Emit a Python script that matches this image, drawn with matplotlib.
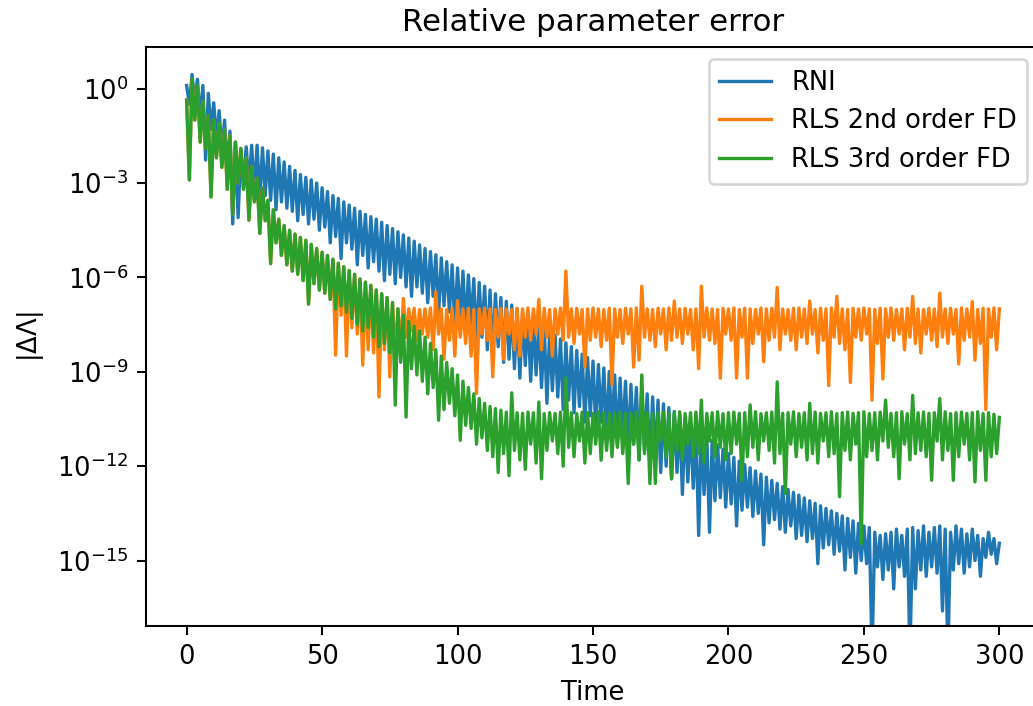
import numpy as np
import matplotlib
matplotlib.use("Agg")
import matplotlib.pyplot as plt
from matplotlib.ticker import NullLocator

# ---------------- data (log10 of |ΔΛ|) ----------------
# sampling grid: upper (comb-tooth) values at even times, lower values at odd times
time_upper = list(range(0, 301, 2))
time_lower = list(range(1, 300, 2))

rni_upper = [
    0.1, 0.45, 0.3, 0.1, -0.15, -0.45, -0.7, -1.0, -1.35, -1.7,
    -1.95, -1.85, -1.8, -1.8, -1.88, -1.98, -2.08, -2.2, -2.33, -2.47,
    -2.6, -2.73, -2.82, -2.9, -3.0, -3.15, -3.27, -3.4, -3.49, -3.6,
    -3.7, -3.8, -3.9, -4.0, -4.07, -4.15, -4.25, -4.35, -4.45, -4.55,
    -4.65, -4.75, -4.85, -4.97, -5.08, -5.18, -5.28, -5.38, -5.5, -5.6,
    -5.7, -5.8, -5.92, -6.04, -6.16, -6.28, -6.4, -6.52, -6.64, -6.76,
    -6.88, -7.0, -7.12, -7.24, -7.36, -7.48, -7.6, -7.72, -7.84, -7.96,
    -8.08, -8.2, -8.32, -8.44, -8.55, -8.66, -8.77, -8.88, -8.99, -9.1,
    -9.2, -9.3, -9.4, -9.5, -9.6, -9.7, -9.8, -9.9, -10.02, -10.14,
    -10.26, -10.38, -10.5, -10.63, -10.76, -10.9, -11.04, -11.18, -11.32, -11.46,
    -11.6, -11.72, -11.84, -11.95, -12.05, -12.15, -12.25, -12.35, -12.45, -12.55,
    -12.65, -12.74, -12.83, -12.92, -13.01, -13.1, -13.18, -13.26, -13.34, -13.42,
    -13.5, -13.58, -13.66, -13.74, -13.82, -13.9, -13.95, -14.1, -14.2, -14.15,
    -14.1, -14.0, -14.2, -14.0, -13.95, -14.05, -13.9, -14.1, -13.95, -13.9,
    -14.0, -14.1, -13.9, -14.0, -14.15, -14.0, -14.2, -14.3, -14.1, -14.3, -14.45,
]
rni_lower = [
    -0.5, -0.4, -1.0, -2.27, -1.3, -1.6, -2.0, -2.6, -4.3, -4.1,
    -3.0, -3.1, -3.3, -3.5, -3.4, -3.55, -3.85, -3.6, -3.8, -3.9,
    -4.2, -4.0, -4.3, -4.15, -4.5, -4.4, -4.9, -4.7, -5.4, -4.9,
    -5.1, -5.6, -5.3, -5.7, -5.5, -5.8, -6.1, -5.9, -6.2, -6.0,
    -6.3, -6.6, -6.3, -6.5, -6.8, -6.6, -7.2, -6.9, -7.1, -7.6,
    -7.4, -7.7, -7.5, -8.1, -7.9, -8.3, -8.5, -8.2, -8.7, -8.6,
    -8.9, -9.2, -8.8, -9.3, -9.1, -9.5, -10.0, -9.6, -9.8, -10.2,
    -9.9, -10.3, -10.1, -10.6, -10.4, -10.8, -10.6, -11.1, -10.9, -11.3,
    -11.1, -11.5, -11.3, -11.8, -11.5, -12.0, -11.8, -12.2, -12.0, -12.4,
    -12.2, -12.9, -12.5, -12.7, -14.2, -12.9, -14.1, -13.1, -13.0, -13.3,
    -13.2, -13.9, -13.4, -13.3, -13.6, -13.5, -14.5, -13.8, -13.7, -14.0,
    -14.1, -13.9, -14.3, -14.2, -14.4, -14.3, -15.1, -14.6, -14.5, -14.8,
    -14.7, -15.3, -14.9, -15.4, -15.0, -15.1, -18.0, -15.2, -15.6, -15.3,
    -15.9, -15.2, -15.5, -18.0, -15.9, -15.3, -15.5, -15.2, -15.4, -16.6,
    -18.0, -15.3, -15.1, -15.4, -15.2, -15.0, -15.5, -14.9, -14.8, -15.1,
]

rls2_upper = [
    -0.36, 0.3, 0.1, -0.4, -0.85, -1.0, -1.1, -1.3, -1.5, -1.7,
    -1.9, -2.2, -2.48, -2.85, -3.15, -3.55, -3.85, -4.15, -4.35, -4.5,
    -4.62, -4.73, -4.82, -4.95, -5.08, -5.2, -5.3, -5.42, -5.55, -5.66,
    -5.78, -5.9, -6.05, -6.15, -6.25, -6.4, -6.52, -6.64, -6.8, -7.0,
    -6.67, -7.0, -6.98, -7.02, -7.0, -6.97, -6.46, -7.0, -7.02, -6.98,
    -6.74, -7.0, -6.98, -7.02, -7.0, -6.97, -7.0, -7.02, -6.98, -7.0,
    -7.02, -6.98, -7.0, -6.97, -7.0, -6.7, -6.98, -7.02, -7.0, -6.97,
    -5.8, -7.0, -6.98, -7.02, -7.0, -6.97, -7.0, -7.02, -6.98, -7.0,
    -7.02, -6.98, -7.0, -6.97, -6.28, -7.0, -7.02, -6.98, -7.0, -6.97,
    -6.75, -7.0, -6.98, -7.02, -7.0, -6.28, -6.97, -7.0, -7.02, -6.98,
    -7.0, -6.97, -7.02, -6.98, -7.0, -7.02, -6.97, -7.0, -6.98, -6.32,
    -7.0, -7.02, -6.98, -6.97, -7.0, -6.75, -7.02, -6.98, -7.0, -6.97,
    -6.6, -7.0, -7.02, -6.98, -7.0, -6.97, -7.0, -7.02, -6.98, -7.0,
    -6.97, -7.02, -7.0, -6.98, -6.6, -7.0, -7.02, -6.98, -7.0, -6.5,
    -7.0, -6.98, -7.02, -6.97, -7.0, -6.77, -7.02, -6.98, -7.0, -6.97, -7.0,
]
rls2_lower = [
    -2.9, -1.0, -1.7, -1.9, -3.44, -2.2, -2.5, -3.2, -3.98, -3.0,
    -3.2, -4.18, -3.6, -4.6, -4.2, -5.56, -4.9, -5.3, -5.6, -5.8,
    -5.9, -6.1, -6.85, -6.2, -6.4, -6.5, -6.7, -8.47, -7.2, -8.5,
    -7.6, -7.8, -8.79, -8.3, -8.4, -9.8, -8.3, -9.16, -8.4, -8.3,
    -7.9, -7.7, -8.0, -7.8, -7.9, -8.3, -7.8, -8.6, -8.0, -8.5,
    -7.9, -8.1, -8.5, -9.69, -7.8, -8.0, -9.16, -7.9, -8.6, -7.8,
    -8.3, -8.5, -7.9, -8.0, -7.8, -8.3, -7.9, -8.5, -7.8, -8.0,
    -7.9, -8.1, -7.8, -8.85, -8.0, -7.9, -8.2, -8.0, -9.4, -7.9,
    -8.1, -7.8, -8.85, -8.63, -7.9, -8.0, -8.2, -7.8, -8.3, -8.0,
    -7.9, -8.1, -7.8, -8.3, -8.9, -7.9, -8.0, -8.1, -9.2, -7.8,
    -8.0, -9.2, -7.9, -9.2, -8.1, -7.8, -8.68, -8.0, -7.9, -8.3,
    -7.8, -8.0, -8.3, -7.9, -8.1, -7.8, -8.4, -8.0, -9.44, -7.9,
    -8.1, -8.3, -9.34, -7.9, -8.0, -7.8, -9.9, -8.1, -9.23, -7.9,
    -8.0, -7.8, -8.3, -7.9, -8.1, -8.4, -7.8, -8.0, -8.2, -7.9,
    -8.1, -7.8, -8.75, -8.0, -7.9, -8.63, -8.1, -10.2, -7.9, -8.3,
]

rls3_upper = [
    -0.36, 0.3, 0.1, -0.4, -0.85, -1.0, -1.1, -1.3, -1.5, -1.7,
    -1.9, -2.2, -2.48, -2.85, -3.15, -3.55, -3.85, -4.15, -4.35, -4.5,
    -4.62, -4.73, -4.82, -4.95, -5.08, -5.2, -5.3, -5.42, -5.55, -5.66,
    -5.78, -5.9, -6.05, -6.15, -6.25, -6.4, -6.52, -6.64, -6.8, -7.0,
    -7.2, -7.4, -7.55, -7.7, -7.9, -8.1, -8.3, -8.5, -8.7, -8.9,
    -9.1, -9.3, -9.5, -9.7, -9.85, -10.0, -10.1, -10.17, -10.22, -10.28,
    -9.67, -10.3, -10.32, -10.28, -10.3, -9.96, -10.33, -10.3, -10.32, -10.28,
    -9.2, -10.3, -10.33, -10.28, -10.3, -10.32, -10.27, -10.3, -10.33, -10.3,
    -10.28, -10.32, -10.3, -10.27, -9.1, -10.3, -10.33, -10.3, -10.28, -10.32,
    -10.3, -10.27, -10.33, -10.3, -10.28, -9.9, -10.32, -10.3, -10.27, -10.33,
    -10.3, -10.28, -10.32, -10.3, -10.05, -10.27, -10.33, -10.3, -10.28, -9.32,
    -10.32, -10.3, -10.27, -10.33, -10.3, -10.0, -10.28, -10.32, -10.3, -10.27,
    -10.33, -10.3, -10.28, -10.32, -10.3, -10.27, -10.33, -10.3, -10.28, -9.9,
    -10.32, -10.3, -10.27, -10.33, -9.75, -10.3, -10.28, -10.32, -10.3, -9.85,
    -10.27, -10.33, -10.3, -10.28, -10.32, -10.3, -10.27, -10.33, -10.3, -10.35, -10.45,
]
rls3_lower = [
    -2.9, -1.0, -1.7, -1.9, -3.44, -2.2, -2.5, -3.2, -3.98, -3.0,
    -3.2, -4.18, -3.6, -4.6, -4.2, -5.56, -4.9, -5.3, -5.6, -5.8,
    -5.9, -6.1, -6.85, -6.2, -6.4, -6.5, -6.7, -7.0, -6.9, -7.1,
    -7.3, -7.5, -7.7, -7.6, -7.9, -8.2, -8.1, -8.4, -10.06, -8.7,
    -10.44, -8.9, -9.1, -9.3, -9.7, -9.5, -10.54, -10.2, -10.0, -10.4,
    -11.18, -10.7, -10.8, -11.3, -11.1, -11.5, -11.7, -12.2, -11.6, -12.3,
    -11.5, -11.8, -12.1, -11.3, -11.9, -12.4, -11.5, -11.2, -11.6, -12.0,
    -11.4, -11.7, -11.2, -11.9, -11.6, -11.3, -11.81, -11.5, -11.7, -11.4,
    -11.6, -12.55, -11.3, -11.8, -11.6, -12.55, -12.55, -11.2, -11.7, -12.4,
    -11.5, -11.8, -11.3, -11.7, -11.6, -11.9, -11.2, -11.7, -11.4, -11.8,
    -11.6, -11.3, -12.45, -11.7, -11.4, -11.8, -11.2, -11.5, -11.9, -11.6,
    -12.87, -11.3, -11.7, -11.4, -11.8, -11.6, -11.9, -11.2, -11.7, -11.6,
    -12.97, -11.5, -11.8, -11.3, -14.46, -11.7, -11.5, -11.8, -11.2, -11.4,
    -11.7, -12.4, -11.3, -11.8, -11.6, -11.5, -11.7, -12.45, -11.2, -11.8,
    -11.5, -12.45, -11.7, -11.3, -11.8, -12.5, -11.5, -12.45, -11.7, -11.6,
]

series_labels = ["RNI", "RLS 2nd order FD", "RLS 3rd order FD"]
series_data = [(rni_upper, rni_lower), (rls2_upper, rls2_lower), (rls3_upper, rls3_lower)]
y_tick_exponents = [0, -3, -6, -9, -12, -15]


def interleave(upper, lower):
    n = len(upper) + len(lower)
    t = np.empty(n)
    v = np.empty(n)
    t[0::2] = time_upper
    t[1::2] = time_lower
    v[0::2] = upper
    v[1::2] = lower
    return t, 10.0 ** v


DPI = 185
fig = plt.figure(figsize=(1033 / DPI, 706 / DPI), dpi=DPI)
ax = fig.add_axes([146 / 1033, 80 / 706, 894 / 1033, 579.5 / 706])

for (up, lo), lab in zip(series_data, series_labels):
    t, y = interleave(up, lo)
    ax.plot(t, y, label=lab, linewidth=1.3)

ax.set_yscale("log")
ax.set_xlim(-15, 315)
ax.set_ylim(10.0 ** -17.08, 10.0 ** 1.34)
ax.set_yticks([10.0 ** e for e in y_tick_exponents])
ax.yaxis.set_minor_locator(NullLocator())
ax.set_xticks([0, 50, 100, 150, 200, 250, 300])

ax.set_title("Relative parameter error")
ax.set_xlabel("Time")
ax.set_ylabel(r"$|\Delta\Lambda|$")
ax.legend(loc="upper right")

fig.savefig("out.png", dpi=DPI)
